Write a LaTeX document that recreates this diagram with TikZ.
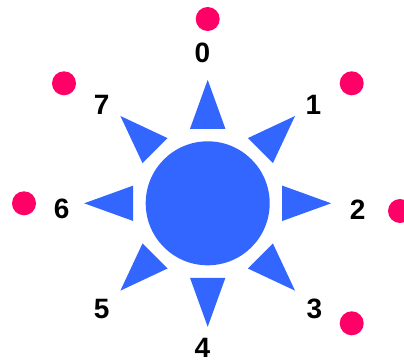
\documentclass[tikz,border=0pt]{standalone}
\usepackage{fontspec}
\setmainfont{Liberation Sans}
\usetikzlibrary{positioning}
\definecolor{sunblue}{HTML}{3366FF}
\definecolor{dotred}{HTML}{FF0066}
\tikzset{
  numlabel/.style={font=\fontsize{28}{32}\selectfont\bfseries, inner sep=0pt},
  reddot/.style={circle, fill=dotred, minimum size=24, inner sep=0pt}
}
\begin{document}
\begin{tikzpicture}[x=1pt,y=-1pt]
\useasboundingbox (0,0) rectangle (404,362);
% sun body
\fill[sunblue] (207.7,203.3) circle (62);
% rays
\foreach \a in {0,45,...,315}
  \fill[sunblue, rotate around={\a:(207.7,203.3)}]
    (190,128.8) -- (225.4,128.8) -- (207.7,79.8) -- cycle;
% position numbers
\node[numlabel] (n0) at (202.3,53.3) {0};
\node[numlabel] (n1) at (313.3,105) {1};
\node[numlabel] (n2) at (357.7,209.3) {2};
\node[numlabel] (n3) at (314.3,309) {3};
\node[numlabel] (n4) at (202.3,348.3) {4};
\node[numlabel] (n5) at (101.7,309) {5};
\node[numlabel] (n6) at (61.7,209.3) {6};
\node[numlabel] (n7) at (101.7,105) {7};
% red dots
\node[reddot] (d0) at (207.7,19) {};
\node[reddot] (d1) at (351.7,83.3) {};
\node[reddot] (d2) at (400,211) {};
\node[reddot] (d3) at (351.7,323.3) {};
\node[reddot] (d6) at (24,203.3) {};
\node[reddot] (d7) at (64,83.3) {};
\end{tikzpicture}
\end{document}
